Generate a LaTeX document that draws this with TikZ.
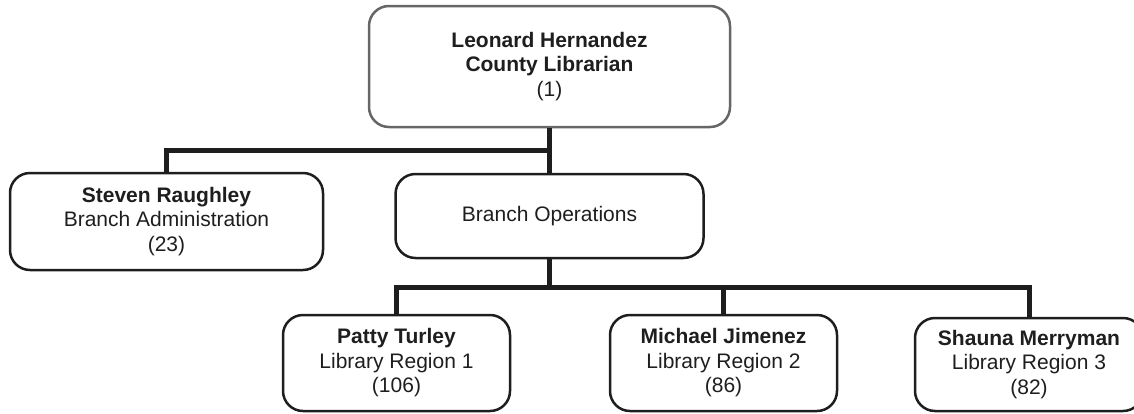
\documentclass[tikz,border=0pt]{standalone}
\usepackage{fontspec}
\setmainfont{Liberation Sans}
\definecolor{boxgray}{HTML}{666666}
\definecolor{ink}{HTML}{1E1E1E}
\begin{document}
\begin{tikzpicture}[x=1pt,y=-1pt,
  orgbox/.style={draw=ink, line width=2.5pt, rounded corners=20pt, align=center,
    font=\fontsize{21}{24.5}\selectfont, text=ink, inner sep=0pt},
  link/.style={draw=ink, line width=5pt}]
\useasboundingbox (0,0) rectangle (1134,413);
\node[orgbox, draw=boxgray, minimum width=361pt, minimum height=121pt] (top) at (549.5,66.5)
  {\textbf{Leonard Hernandez}\\\textbf{County Librarian}\\(1)};
\node[orgbox, minimum width=313pt, minimum height=97pt] (steven) at (166.5,221.5)
  {\textbf{Steven Raughley}\\Branch Administration\\(23)};
\node[orgbox, minimum width=308pt, minimum height=84pt] (ops) at (549.5,216)
  {Branch Operations};
\node[orgbox, minimum width=227pt, minimum height=96pt] (patty) at (396.5,363)
  {\textbf{Patty Turley}\\Library Region 1\\(106)};
\node[orgbox, minimum width=227pt, minimum height=96pt] (michael) at (723.5,363)
  {\textbf{Michael Jimenez}\\Library Region 2\\(86)};
\node[orgbox, minimum width=228pt, minimum height=93pt] (shauna) at (1029,364.5)
  {\textbf{Shauna Merryman}\\Library Region 3\\(82)};
\coordinate (j1) at (549.5,150);
\coordinate (j2) at (549.5,287);
\draw[link] (top.south) -- (ops.north);
\draw[link] (j1) -| (steven.north);
\draw[link] (ops.south) -- (j2);
\draw[link] (patty.north) |- (j2) -| (shauna.north);
\draw[link] (j2) -| (michael.north);
\end{tikzpicture}
\end{document}
